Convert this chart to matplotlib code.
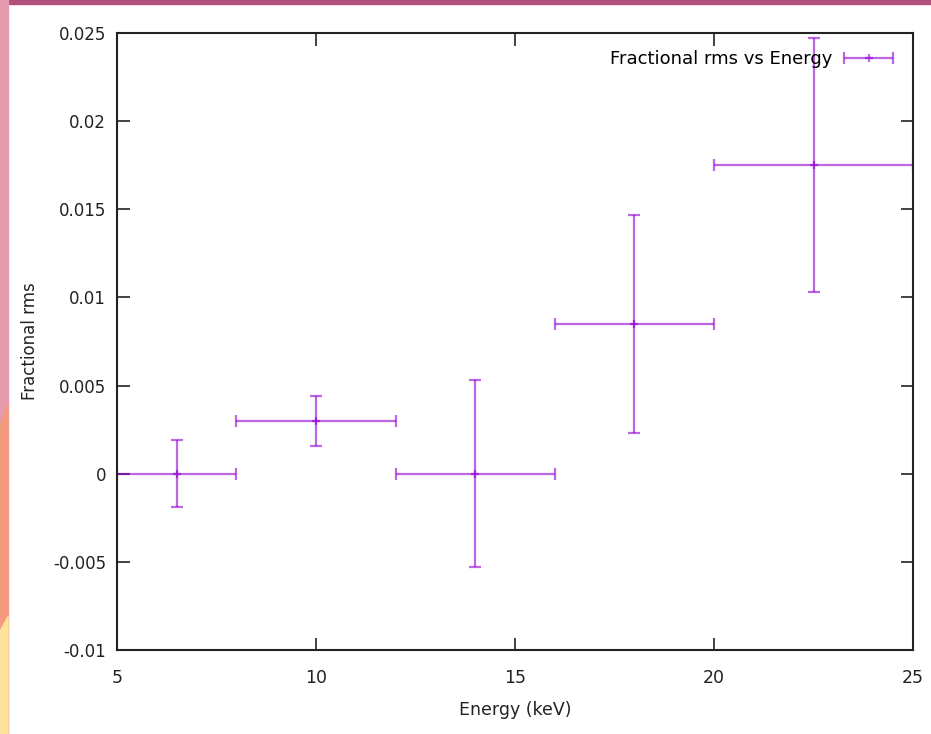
import matplotlib
matplotlib.use("Agg")
import matplotlib.pyplot as plt
from matplotlib.patches import Rectangle, Polygon
from matplotlib.legend_handler import HandlerErrorbar
from matplotlib.container import ErrorbarContainer
import numpy as np

energy = [6.5, 10, 14, 18, 22.5]
e_low = [1.5, 2.0, 2.0, 2.0, 2.5]
e_high = [1.5, 2.0, 2.0, 2.0, 2.5]
frac_rms = [0.0, 0.0030, 0.0, 0.0085, 0.0175]
rms_err = [0.0019, 0.0014, 0.0053, 0.0062, 0.0072]

xticks = [5, 10, 15, 20, 25]
yticks = [-0.01, -0.005, 0, 0.005, 0.01, 0.015, 0.02, 0.025]
ytick_labels = ["-0.01", "-0.005", "0", "0.005", "0.01", "0.015", "0.02", "0.025"]

W, H = 931, 734
fig = plt.figure(figsize=(W / 100, H / 100), dpi=100)
fig.patch.set_facecolor("white")

# decorative slide background strips
fig.patches.append(Rectangle((0, 1 - 4 / H), 1, 4 / H, transform=fig.transFigure,
                             color="#b0507a", zorder=0))
fig.patches.append(Rectangle((0, 0), 8 / W, 1, transform=fig.transFigure,
                             color="#e69aae", zorder=0))
fig.patches.append(Polygon([(0, 0), (8 / W, 0), (8 / W, 0.45), (0, 0.42)],
                           closed=True, transform=fig.transFigure,
                           color="#f39a7e", zorder=0))
fig.patches.append(Polygon([(0, 0), (8 / W, 0), (8 / W, 0.16), (0, 0.14)],
                           closed=True, transform=fig.transFigure,
                           color="#fde39a", zorder=0))

ax = fig.add_axes([117 / W, 1 - 650 / H, (913 - 117) / W, (650 - 33) / H])

col = "#9400d3"
style = dict(fmt="+", color=col, ecolor=col, alpha=0.6, elinewidth=1.6,
             capsize=4, capthick=1.6, markersize=6, mew=1.6)
ax.errorbar(energy, frac_rms, xerr=[e_low, e_high], yerr=rms_err, **style)
# legend proxy: horizontal bar only, as in the gnuplot key
proxy = ax.errorbar([np.nan], [np.nan], xerr=[1.0], **style)

ax.set_xlim(5, 25)
ax.set_ylim(-0.01, 0.025)
ax.set_xticks(xticks)
ax.set_xticklabels([str(t) for t in xticks])
ax.set_yticks(yticks)
ax.set_yticklabels(ytick_labels)
ax.tick_params(direction="in", length=9, width=1.2, top=True, right=True,
               labelsize=12, pad=8, colors="#222222")
ax.tick_params(axis="x", labelsize=12.5, pad=14)
for s in ax.spines.values():
    s.set_linewidth(1.5)
    s.set_color("#222222")

ax.set_xlabel("Energy (keV)", fontsize=12.5, labelpad=10, color="#222222")
ax.set_ylabel("Fractional rms", fontsize=12, labelpad=10, color="#222222")

leg = ax.legend([proxy], ["Fractional rms vs Energy"], loc="upper right",
                frameon=False, markerfirst=False, prop={"size": 13},
                handlelength=3.0, handletextpad=0.5, borderaxespad=0.55,
                handler_map={ErrorbarContainer: HandlerErrorbar(xerr_size=1.35)})

fig.savefig("out.png", dpi=100)
